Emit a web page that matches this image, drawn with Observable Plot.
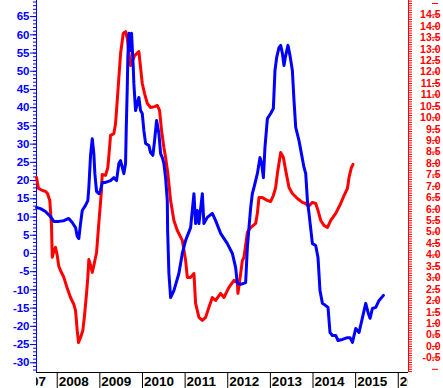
<!DOCTYPE html>
<html><head><meta charset="utf-8">
<script src="https://cdn.jsdelivr.net/npm/d3@7"></script>
<script src="https://cdn.jsdelivr.net/npm/@observablehq/plot@0.6"></script>
<style>html,body{margin:0;padding:0;background:#fff;} svg{display:block}</style>
</head><body><div id="chart"></div>
<script>
// Blue series (left axis)
const blueYears = [2007.514,2007.608,2007.725,2007.843,2007.920,2008.038,2008.155,2008.272,2008.352,2008.430,2008.469,2008.507,2008.547,2008.587,2008.664,2008.718,2008.742,2008.782,2008.822,2008.859,2008.883,2008.923,2008.977,2009.016,2009.056,2009.134,2009.251,2009.329,2009.392,2009.446,2009.486,2009.526,2009.563,2009.603,2009.620,2009.643,2009.657,2009.681,2009.721,2009.744,2009.784,2009.798,2009.838,2009.878,2009.915,2009.955,2009.995,2010.033,2010.073,2010.150,2010.190,2010.244,2010.284,2010.331,2010.385,2010.425,2010.465,2010.502,2010.542,2010.582,2010.590,2010.620,2010.660,2010.737,2010.854,2010.934,2011.012,2011.129,2011.207,2011.246,2011.286,2011.324,2011.404,2011.441,2011.521,2011.638,2011.716,2011.833,2011.991,2012.108,2012.185,2012.225,2012.303,2012.420,2012.460,2012.498,2012.538,2012.577,2012.615,2012.695,2012.756,2012.796,2012.836,2012.873,2012.930,2013.007,2013.070,2013.108,2013.148,2013.202,2013.242,2013.282,2013.319,2013.359,2013.413,2013.460,2013.516,2013.554,2013.594,2013.671,2013.728,2013.789,2013.829,2013.869,2013.906,2013.986,2014.063,2014.117,2014.164,2014.221,2014.298,2014.352,2014.399,2014.455,2014.533,2014.587,2014.690,2014.808,2014.869,2014.925,2015.002,2015.080,2015.160,2015.237,2015.291,2015.338,2015.394,2015.472,2015.549,2015.653];
const blueValues = [12.6,12.3,11.5,10.1,8.8,8.8,9.0,9.6,8.5,7.1,4.7,4.1,8.2,11.8,13.2,14.5,18.1,26.9,31.5,27.4,21.9,17.0,16.4,17.3,19.5,19.5,20.0,20.8,20.0,24.7,25.5,23.6,21.9,24.7,34.6,45.5,53.8,60.4,55.7,60.4,51.0,46.6,39.2,41.2,42.8,39.2,38.4,33.7,30.2,29.6,27.7,26.9,31.0,36.5,32.9,27.4,26.3,24.7,20.8,14.5,6.3,-5.5,-12.1,-10.2,-5.5,0.0,3.6,7.1,16.4,8.2,11.8,8.2,16.4,8.2,9.9,11.0,9.0,5.5,2.7,0.0,-3.9,-8.2,-8.5,-8.0,1.6,7.1,12.6,16.4,18.1,21.9,26.3,24.7,20.8,29.1,37.0,38.4,39.8,50.2,53.8,56.5,57.1,54.9,51.6,54.3,57.1,54.3,50.2,42.0,34.6,31.0,27.4,23.6,21.9,14.5,11.0,2.7,2.2,-1.1,-10.2,-13.7,-14.3,-14.8,-21.7,-22.5,-22.5,-23.9,-23.6,-23.1,-23.1,-24.4,-20.6,-21.7,-17.6,-13.7,-16.2,-17.8,-15.1,-14.8,-12.9,-11.5];

// Red series (right axis)
const redYears = [2007.514,2007.561,2007.655,2007.725,2007.772,2007.826,2007.866,2007.883,2007.925,2007.960,2008.000,2008.038,2008.077,2008.155,2008.235,2008.312,2008.390,2008.430,2008.469,2008.500,2008.547,2008.601,2008.641,2008.688,2008.718,2008.742,2008.782,2008.822,2008.859,2008.923,2008.977,2009.033,2009.056,2009.134,2009.188,2009.228,2009.251,2009.329,2009.369,2009.408,2009.446,2009.486,2009.549,2009.603,2009.643,2009.674,2009.721,2009.815,2009.915,2009.955,2009.995,2010.049,2010.113,2010.190,2010.284,2010.347,2010.401,2010.448,2010.502,2010.542,2010.596,2010.660,2010.737,2010.817,2010.934,2011.012,2011.052,2011.129,2011.207,2011.246,2011.324,2011.404,2011.481,2011.559,2011.638,2011.716,2011.833,2011.911,2012.028,2012.146,2012.225,2012.239,2012.303,2012.343,2012.380,2012.460,2012.538,2012.655,2012.695,2012.732,2012.812,2012.930,2013.007,2013.070,2013.124,2013.164,2013.242,2013.305,2013.359,2013.437,2013.516,2013.634,2013.751,2013.829,2013.892,2013.986,2014.063,2014.117,2014.181,2014.258,2014.338,2014.416,2014.533,2014.650,2014.728,2014.808,2014.845,2014.901,2014.939];
const redValues = [7.39,6.91,6.82,6.78,6.69,6.38,5.29,3.90,4.20,4.33,3.98,3.50,3.32,3.02,2.54,2.14,1.84,1.57,0.70,0.17,0.39,0.70,1.36,2.32,3.02,3.80,3.54,3.24,3.54,4.11,5.42,6.69,7.52,7.48,7.83,8.70,9.23,9.31,9.75,10.76,11.76,12.81,13.69,13.77,13.47,12.94,12.29,12.72,12.90,12.20,11.50,11.06,10.63,10.45,10.49,10.54,10.32,9.44,8.70,8.26,7.56,6.38,5.51,5.07,4.64,3.76,3.02,3.02,3.19,1.88,1.27,1.14,1.27,1.71,2.14,2.01,2.32,2.14,2.58,2.89,2.84,2.32,3.19,3.76,3.89,4.99,5.20,5.38,5.82,6.51,6.51,6.38,6.34,6.60,6.95,7.56,8.48,8.26,7.70,6.95,6.69,6.47,6.30,6.25,6.12,6.30,6.25,5.95,5.51,5.29,5.20,5.51,5.82,6.25,6.60,6.91,7.39,7.83,7.96];

// Axes
const xDomain = [2007.514, 2016.24];
const leftDomain = [-32.67, 69.42];
const rightDomain = [-1.14, 15.13];
const yearTicks = [2007,2008,2009,2010,2011,2012,2013,2014,2015,2016];
const yearSeparators = [2008,2009,2010,2011,2012,2013,2014,2015,2016];
const leftMajor = d3.range(-30, 66, 5);
const leftMinor = d3.range(-32, 70, 1);
const rightMajor = d3.range(-2, 31).map(i => i / 2);
const rightMinor = d3.range(-11, 152).map(i => i / 10);

const toL = d3.scaleLinear(rightDomain, leftDomain);
const blue = blueYears.map((y, i) => ({year: y, value: blueValues[i]}));
const red = redYears.map((y, i) => ({year: y, value: redValues[i]}));

const chart = Plot.plot({
  width: 443, height: 388,
  marginTop: 0, marginBottom: 16, marginLeft: 36, marginRight: 35,
  style: {fontFamily: "'Liberation Sans', Arial, sans-serif", background: "#fff"},
  x: {domain: xDomain, axis: null},
  y: {domain: leftDomain, axis: null},
  marks: [
    // left axis
    Plot.axisY(leftMinor, {anchor: "left", label: null, tickSize: 3, fill: "none", stroke: "#0000ff"}),
    Plot.axisY(leftMajor, {anchor: "left", label: null, tickSize: 6, tickPadding: 1, color: "#0000ff",
      fontSize: 11.5, fontWeight: "bold", tickFormat: d => String(d)}),
    // right axis
    Plot.axisY(rightMinor.map(toL), {anchor: "right", label: null, tickSize: 3, fill: "none", stroke: "#ff0000"}),
    Plot.axisY(rightMajor.map(toL), {anchor: "right", label: null, tickSize: 6, tickPadding: 3, color: "#ff0000", textAnchor: "end", dx: 23,
      fontSize: 10.5, fontWeight: "bold",
      tickFormat: d => { let v = Math.round(toL.invert(d) * 2) / 2; if (v < -0.5 || v > 14.5) return ""; if (v === 0) v = 0; return v.toFixed(1); }}),
    // x axis
    Plot.axisX(yearSeparators, {anchor: "bottom", label: null, tickSize: 16, fill: "none", stroke: "black"}),
    Plot.axisX(yearTicks, {anchor: "bottom", label: null, tickSize: 0, tickPadding: 4, textAnchor: "start", dx: 1.5, color: "black",
      fontSize: 13.5, fontWeight: "bold", tickFormat: d => String(d)}),
    Plot.ruleY([leftDomain[0]], {stroke: "black"}),
    Plot.ruleX([xDomain[0]], {stroke: "#0000ff"}),
    Plot.ruleX([xDomain[1]], {stroke: "#ff0000"}),
    // series
    Plot.line(red, {x: "year", y: d => toL(d.value), stroke: "#ff0000", strokeWidth: 3, strokeLinejoin: "round"}),
    Plot.line(blue, {x: "year", y: "value", stroke: "#0000ff", strokeWidth: 3, strokeLinejoin: "round"})
  ]
});

// clip the year labels to the plot's horizontal extent
const ns = "http://www.w3.org/2000/svg";
const xr = chart.scale("x").range;
const defs = document.createElementNS(ns, "defs");
const cp = document.createElementNS(ns, "clipPath");
cp.setAttribute("id", "xlabclip");
const rect = document.createElementNS(ns, "rect");
rect.setAttribute("x", xr[0]); rect.setAttribute("y", 0);
rect.setAttribute("width", xr[1] - xr[0]); rect.setAttribute("height", 388);
cp.appendChild(rect); defs.appendChild(cp); chart.insertBefore(defs, chart.firstChild);
chart.querySelectorAll('g[aria-label="x-axis tick label"]').forEach(g => {
  const wrap = document.createElementNS(ns, "g");
  wrap.setAttribute("clip-path", "url(#xlabclip)");
  g.parentNode.insertBefore(wrap, g);
  wrap.appendChild(g);
});
document.getElementById("chart").appendChild(chart);
</script>
</body></html>
